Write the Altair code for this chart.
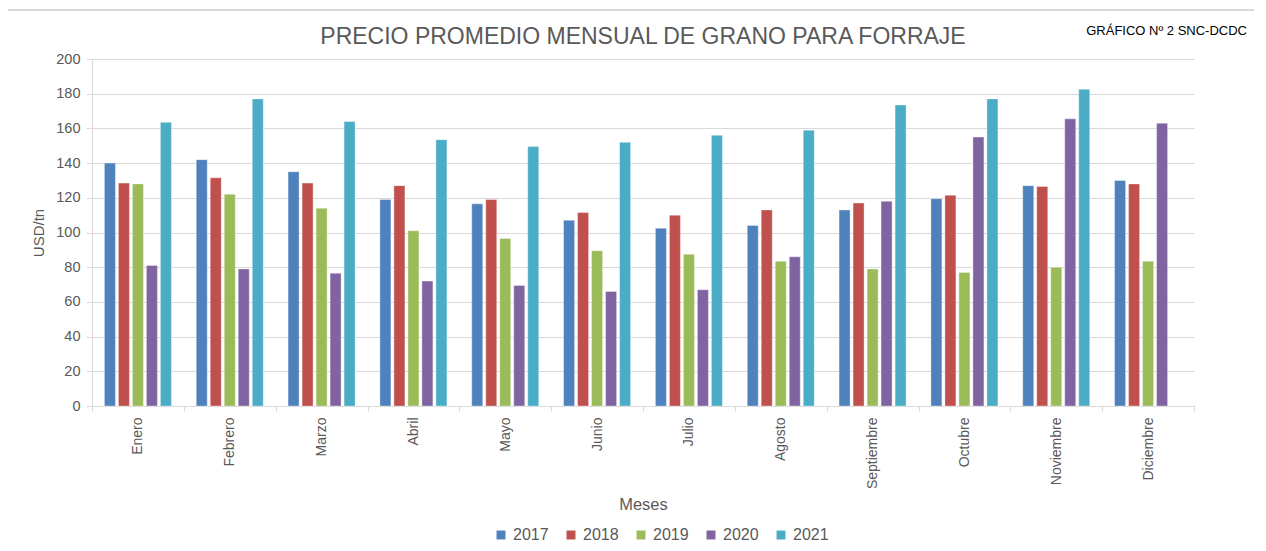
import altair as alt
import pandas as pd

meses = ["Enero", "Febrero", "Marzo", "Abril", "Mayo", "Junio", "Julio",
         "Agosto", "Septiembre", "Octubre", "Noviembre", "Diciembre"]
years = ["2017", "2018", "2019", "2020", "2021"]
v2017 = [140, 142, 135, 119, 116.5, 107, 102.5, 104, 113, 119.5, 127, 130]
v2018 = [128.5, 131.5, 128.5, 127, 119, 111.5, 110, 113, 117, 121.5, 126.5, 128]
v2019 = [128, 122, 114, 101, 96.5, 89.5, 87.5, 83.5, 79, 77, 80, 83.5]
v2020 = [81, 79, 76.5, 72, 69.5, 66, 67, 86, 118, 155, 165.5, 163]
v2021 = [163.5, 177, 164, 153.5, 149.5, 152, 156, 159, 173.5, 177, 182.5, None]
colors = ["#4F81BD", "#C0504D", "#9BBB59", "#8064A2", "#4BACC6"]

series = [v2017, v2018, v2019, v2020, v2021]
rows = []
for y, vals in zip(years, series):
    for m, v in zip(meses, vals):
        if v is not None:
            rows.append({"Mes": m, "Año": y, "Precio": v})
df = pd.DataFrame(rows)

FONT = "Liberation Sans"
GRAY = "#595959"
LINE = "#D9D9D9"

bars = alt.Chart(df).mark_bar(stroke="white", strokeWidth=0.6, strokeOpacity=0.6).encode(
    x=alt.X("Mes:N", sort=meses,
            scale=alt.Scale(paddingInner=0, paddingOuter=0),
            axis=alt.Axis(title="Meses", labelAngle=270, labelAlign="right",
                          labelBaseline="middle", labelPadding=6, labelFontSize=14,
                          labelColor=GRAY, tickBand="extent", tickSize=5,
                          tickColor=LINE, domainColor=LINE, titleFontSize=16.5,
                          titleColor=GRAY, titleFontWeight="normal",
                          titleY=98, titleBaseline="middle")),
    xOffset=alt.XOffset("Año:N", sort=years,
                        scale=alt.Scale(paddingInner=0.214, paddingOuter=0.886)),
    y=alt.Y("Precio:Q", scale=alt.Scale(domain=[0, 200]),
            axis=alt.Axis(title="USD/tn", values=list(range(0, 201, 20)),
                          labelFontSize=14.5, labelColor=GRAY, tickColor=LINE,
                          tickSize=6, labelPadding=6, domainColor=LINE,
                          gridColor=LINE, titleFontSize=15, titleColor=GRAY,
                          titleFontWeight="normal", titlePadding=9)),
    color=alt.Color("Año:N", sort=years,
                    scale=alt.Scale(domain=years, range=colors),
                    legend=alt.Legend(title=None, orient="none", direction="horizontal",
                                      legendX=401, legendY=468, symbolType="square",
                                      symbolSize=80, labelFontSize=16, labelColor=GRAY,
                                      columnPadding=14, symbolStrokeWidth=0)),
)

note = alt.Chart(pd.DataFrame({"t": ["GRÁFICO Nº 2 SNC-DCDC"]})).mark_text(
    align="right", baseline="middle", fontSize=13, font=FONT, color="#000000"
).encode(text="t:N", x=alt.value(1155), y=alt.value(-28))

frame_v = alt.Chart(pd.DataFrame({"a": [0]})).mark_rule(color=LINE, strokeWidth=2).encode(
    x=alt.value(-85), y=alt.value(-49), y2=alt.value(500))
frame_h = alt.Chart(pd.DataFrame({"a": [0]})).mark_rule(color=LINE, strokeWidth=2).encode(
    x=alt.value(-85), x2=alt.value(1200), y=alt.value(-49))

chart = alt.layer(bars, note, frame_v, frame_h).properties(
    width=1102, height=347,
    title=alt.TitleParams("PRECIO PROMEDIO MENSUAL DE GRANO PARA FORRAJE",
                          fontSize=23, font=FONT, color=GRAY, fontWeight="normal",
                          anchor="middle", offset=13, dy=53),
    autosize=alt.AutoSizeParams(type="none"),
    padding={"left": 84, "top": 51, "right": 60, "bottom": 138},
).configure(font=FONT).configure_view(stroke=None).configure_axis(
    labelFont=FONT, titleFont=FONT
).configure_legend(labelFont=FONT)

chart.save("out.html", embed_options={"renderer": "svg", "actions": False})
